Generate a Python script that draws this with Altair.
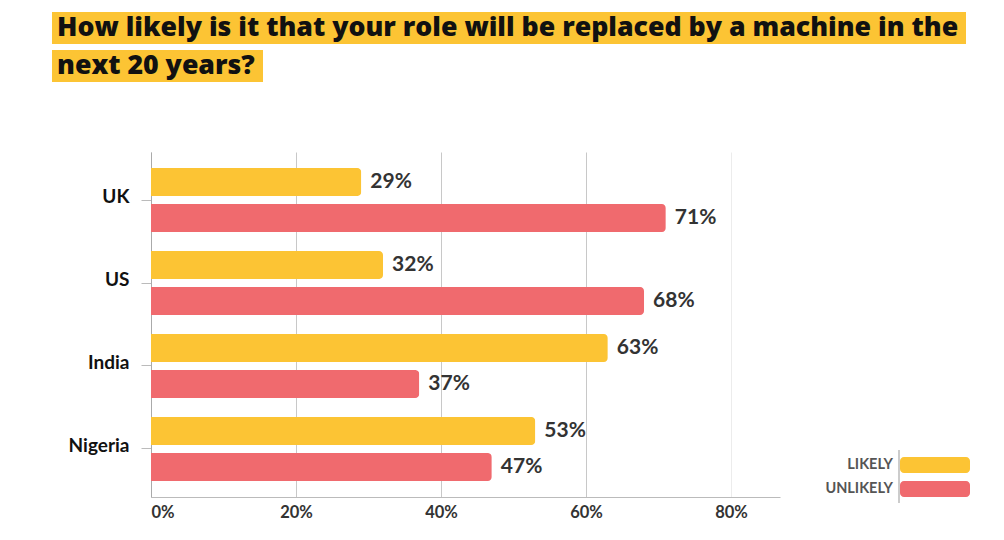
import altair as alt
import pandas as pd

countries = ["UK", "US", "India", "Nigeria"]
series = ["LIKELY", "UNLIKELY"]
likely = [29, 32, 63, 53]
unlikely = [71, 68, 37, 47]
colors = ["#FCC434", "#F06A6E"]
title_lines = ["How likely is it that your role will be replaced by a machine in the",
               "next 20 years?"]
x_ticks = [0, 20, 40, 60, 80]

rows = []
for i, c in enumerate(countries):
    rows.append({"country": c, "series": series[0], "value": likely[i]})
    rows.append({"country": c, "series": series[1], "value": unlikely[i]})
df = pd.DataFrame(rows)

FONT = "Lato"
TFONT = "Open Sans"
W, H = 629, 345

base = alt.Chart(df)
y_enc = alt.Y("country:N", sort=countries, title=None,
              scale=alt.Scale(paddingInner=0.229, paddingOuter=0.193),
              axis=alt.Axis(labelFont=FONT, labelFontWeight="bold", labelFontSize=19,
                            labelColor="#111", tickSize=10, tickColor="#bbb",
                            domainColor="#aaa", labelPadding=12, labelOffset=-3))
yoff = alt.YOffset("series:N", sort=series,
                   scale=alt.Scale(paddingInner=0.222, paddingOuter=0))
x_enc = alt.X("value:Q", title=None,
              scale=alt.Scale(domain=[0, 86.75], nice=False),
              axis=alt.Axis(values=x_ticks, labelExpr="datum.value + '%'", ticks=False,
                            labelFont=FONT, labelFontWeight="bold", labelFontSize=16.5,
                            labelColor="#333", labelPadding=7, domainColor="#bbb",
                            gridColor={"condition": {"test": "datum.value >= 80", "value": "#ececec"},
                                       "value": "#c8c8c8"}))
color_enc = alt.Color("series:N", sort=series,
                      scale=alt.Scale(domain=series, range=colors), legend=None)

bars = base.mark_bar(cornerRadiusEnd=4).encode(x=x_enc, y=y_enc, yOffset=yoff, color=color_enc)
labels = base.transform_calculate(lbl="datum.value + '%'").mark_text(
    align="left", baseline="middle", dx=9, font=FONT, fontWeight="bold",
    fontSize=21, color="#333").encode(
    x="value:Q", y=alt.Y("country:N", sort=countries), yOffset=yoff, text="lbl:N")

one = alt.Chart(pd.DataFrame({"a": [0]}))
layers = [bars, labels]

# title with highlight
title_boxes = [(-99, 815, -140, -108), (-99, 112, -102, -70)]
for (x0, x1, y0, y1), line in zip(title_boxes, title_lines):
    layers.append(one.mark_rect(color="#FCC434").encode(
        x=alt.value(x0), x2=alt.value(x1), y=alt.value(y0), y2=alt.value(y1)))
    layers.append(one.mark_text(text=line, align="left", baseline="middle", font=TFONT,
                                fontWeight=800, fontSize=26.7, color="#111").encode(
        x=alt.value(x0 + 5), y=alt.value((y0 + y1) / 2)))

# legend
layers.append(one.mark_rule(color="#999").encode(
    x=alt.value(748), y=alt.value(298), y2=alt.value(351)))
for i, (s, col) in enumerate(zip(series, colors)):
    y0 = 305 + 24 * i
    layers.append(one.mark_rect(color=col, cornerRadius=4).encode(
        x=alt.value(749), x2=alt.value(819), y=alt.value(y0), y2=alt.value(y0 + 16)))
    layers.append(one.mark_text(text=s, align="right", baseline="middle", font=FONT,
                                fontWeight="bold", fontSize=14.5, color="#555").encode(
        x=alt.value(742), y=alt.value(y0 + 8)))

chart = alt.layer(*layers).properties(
    width=W, height=H,
    autosize=alt.AutoSizeParams(type="none"),
    padding={"left": 143, "top": 144, "right": 200, "bottom": 35},
).configure_view(stroke=None).configure_axis(grid=True)
chart = chart.configure_axisY(grid=False)

chart.save("out.html", embed_options={"renderer": "svg", "actions": False})
